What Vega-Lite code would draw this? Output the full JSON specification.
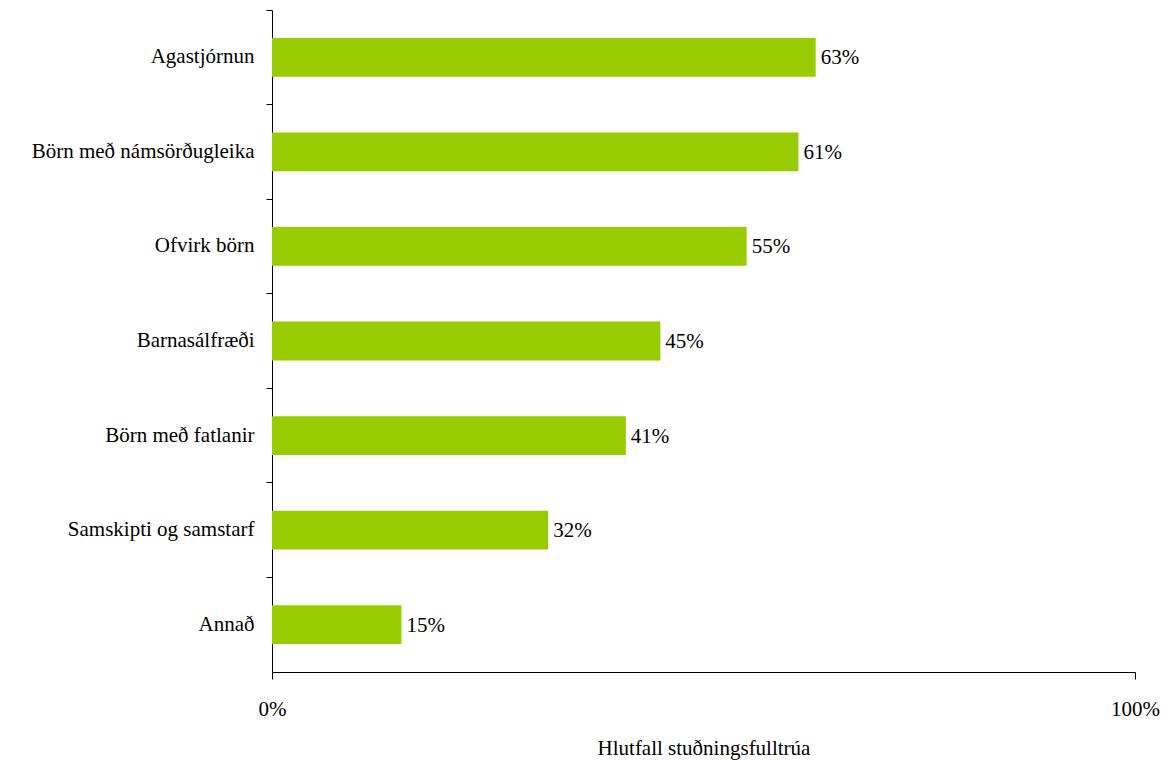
{
  "$schema": "https://vega.github.io/schema/vega-lite/v6.json",
  "width": 863,
  "height": 662,
  "autosize": {"type": "none"},
  "padding": {"left": 272, "top": 10, "right": 32, "bottom": 88},
  "background": "white",
  "data": {
    "values": [
      {"flokkur": "Agastjórnun", "hlutfall": 0.63},
      {"flokkur": "Börn með námsörðugleika", "hlutfall": 0.61},
      {"flokkur": "Ofvirk börn", "hlutfall": 0.55},
      {"flokkur": "Barnasálfræði", "hlutfall": 0.45},
      {"flokkur": "Börn með fatlanir", "hlutfall": 0.41},
      {"flokkur": "Samskipti og samstarf", "hlutfall": 0.32},
      {"flokkur": "Annað", "hlutfall": 0.15}
    ]
  },
  "config": {
    "view": {"stroke": null},
    "font": "Liberation Serif",
    "axis": {"labelFont": "Liberation Serif", "titleFont": "Liberation Serif", "labelColor": "black", "titleColor": "black", "domainColor": "black", "tickColor": "black", "grid": false}
  },
  "encoding": {
    "y": {
      "field": "flokkur",
      "type": "nominal",
      "sort": null,
      "scale": {"paddingInner": 0, "paddingOuter": 0},
      "axis": {
        "title": null,
        "labelFontSize": 21,
        "labelPadding": 12,
        "labelLimit": 0,
        "tickSize": 6,
        "bandPosition": 0,
        "domainColor": "black",
        "labelColor": "black"
      }
    },
    "x": {
      "field": "hlutfall",
      "type": "quantitative",
      "scale": {"domain": [0, 1], "nice": false},
      "axis": {
        "values": [0, 1],
        "format": ".0%",
        "title": "Hlutfall stuðningsfulltrúa",
        "titleFontSize": 21,
        "titleFontWeight": "normal",
        "titlePadding": 18,
        "labelFontSize": 21,
        "labelPadding": 19,
        "tickSize": 7,
        "labelFlush": false
      }
    }
  },
  "layer": [
    {
      "mark": {"type": "bar", "color": "#99CC00", "height": {"band": 0.41}}
    },
    {
      "mark": {"type": "text", "align": "left", "baseline": "middle", "dx": 5, "dy": 1, "fontSize": 21, "font": "Liberation Serif", "color": "black"},
      "encoding": {
        "text": {"field": "hlutfall", "type": "quantitative", "format": ".0%"}
      }
    }
  ]
}
